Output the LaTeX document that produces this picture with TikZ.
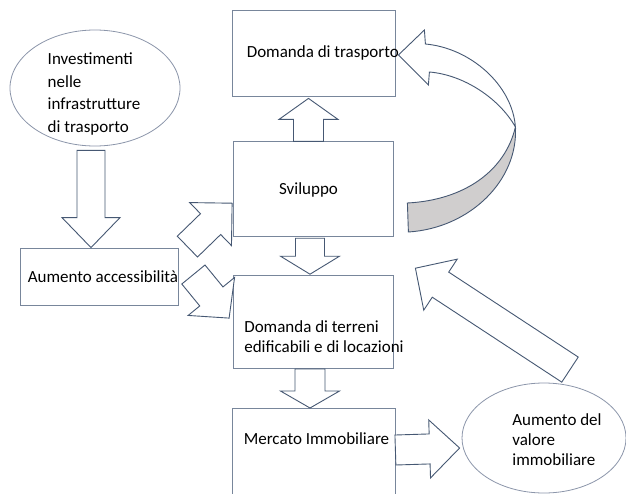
\documentclass[tikz,border=0pt]{standalone}
\usepackage{fontspec}
\setmainfont{Carlito}
\usetikzlibrary{calc,positioning,shapes.geometric}
\definecolor{schLine}{RGB}{70,88,115}
\definecolor{schBox}{RGB}{120,134,155}
\definecolor{schOval}{RGB}{140,150,170}
\definecolor{schShade}{RGB}{208,206,206}
\tikzset{
  schbox/.style={
    draw=schBox,
    line width=0.8pt,
    minimum width=160pt,
    inner sep=0pt
  },
  schoval/.style={
    draw=schOval,
    line width=0.8pt,
    ellipse,
    inner sep=0pt
  },
  schtext/.style={
    font=\fontsize{17}{20}\selectfont,
    align=left,
    inner sep=0pt
  },
  schblock/.style={
    draw=schLine,
    line width=0.9pt,
    fill=white,
    line join=miter
  }
}
% block arrow: from, to, shaft half width, head half width, head length
\newcommand\schblockarrow[5]{%
  \coordinate (bh) at ($(#2)!#5!(#1)$);
  \filldraw[schblock] ($(#1)!#3!90:(#2)$) -- ($(bh)!#3!90:(#2)$) -- ($(bh)!#4!90:(#2)$)
    -- (#2) -- ($(bh)!#4!-90:(#2)$) -- ($(bh)!#3!-90:(#2)$) -- ($(#1)!#3!-90:(#2)$) -- cycle;
}

\begin{document}
\begin{tikzpicture}[x=1pt,y=-1pt]
  \clip (0,0) rectangle (626,493);
  \fill[white] (0,0) rectangle (626,493);

  % boxes in the middle column
  \node[schbox, minimum width=163pt, minimum height=86pt] (trasporto) at (313.5,53) {};
  \node[schbox, minimum height=95pt, below=45pt of trasporto] (sviluppo) {};
  \node[schbox, minimum height=93pt, below=38pt of sviluppo] (terreni) {};
  \node[schbox, minimum width=163pt, minimum height=100pt, below=39pt of terreni] (mercato) {};
  \node[schbox, minimum width=158pt, minimum height=57pt] (accesso) at (99,276.5) {};
  \node[schoval, minimum width=170pt, minimum height=116pt] (inv) at (95,88) {};
  \node[schoval, minimum width=164pt, minimum height=110pt] (valore) at (544,438) {};

  % texts
  \node[schtext, anchor=west] (trasporto-t) at ($(trasporto.west)+(15,0)$) {Domanda di trasporto};
  \node[schtext] (sviluppo-t) at ($(sviluppo.center)+(-5,1)$) {Sviluppo};
  \node[schtext, anchor=west] (terreni-t) at ($(terreni.west)+(11,15)$)
    {Domanda di terreni\\edificabili e di locazioni};
  \node[schtext, anchor=west] (mercato-t) at ($(mercato.north west)+(12,31)$) {Mercato Immobiliare};
  \node[schtext, anchor=west] (accesso-t) at ($(accesso.west)+(8,0)$) {Aumento accessibilità};
  \node[schtext, font=\fontsize{17}{22.5}\selectfont] (inv-t) at ($(inv.center)+(-1,6)$)
    {Investimenti\\nelle\\infrastrutture\\di trasporto};
  \node[schtext] (valore-t) at ($(valore.center)+(13,2)$)
    {Aumento del\\valore\\immobiliare};

  % ends of the block arrows
  \coordinate (a1s) at ($(inv.south)+(-4,4)$);
  \coordinate (a1e) at ($(accesso.north)+(-8,0)$);
  \coordinate (a2s) at ($(sviluppo.north)+(-5,0)$);
  \coordinate (a2e) at ($(trasporto.south)+(-5,2)$);
  \coordinate (a3s) at ($(sviluppo.south)+(-3.5,1)$);
  \coordinate (a3e) at ($(terreni.north)+(-3.5,-1)$);
  \coordinate (a4s) at ($(terreni.south)+(-3.5,0)$);
  \coordinate (a4e) at ($(mercato.north)+(-3.5,0)$);
  \coordinate (a5s) at ($(mercato.north east)+(0,42)$);
  \coordinate (a5e) at ($(valore.west)+(-2,10)$);
  \coordinate (a6s) at ($(accesso.north east)+(9,-1)$);
  \coordinate (a6e) at ($(sviluppo.south west)+(-1,-34)$);
  \coordinate (a7s) at ($(accesso.east)+(15,-2)$);
  \coordinate (a7e) at ($(terreni.west)+(-4,-4)$);
  \coordinate (a8s) at ($(valore.north)+(26,-13)$);
  \coordinate (a8e) at ($(terreni.north east)+(21.5,-7)$);
  \coordinate (cv-tip) at ($(trasporto.east)+(3,2)$);

  \schblockarrow{a1s}{a1e}{14pt}{29pt}{30pt}
  \schblockarrow{a2s}{a2e}{15pt}{29.5pt}{21pt}
  \schblockarrow{a3s}{a3e}{14.5pt}{29.5pt}{18pt}
  \schblockarrow{a4s}{a4e}{15pt}{29.5pt}{17pt}
  \schblockarrow{a5s}{a5e}{15pt}{29pt}{30pt}
  \schblockarrow{a6s}{a6e}{14.5pt}{30pt}{30pt}
  \schblockarrow{a7s}{a7e}{15pt}{30pt}{28pt}
  \schblockarrow{a8s}{a8e}{15pt}{30.5pt}{30pt}

  % curved arrow from Sviluppo back to Domanda di trasporto
  \begin{scope}[shift={(cv-tip)}]
    \filldraw[schblock, fill=schShade] (117,72) .. controls (120,125) and (72,173) .. (10,177)
      -- (9,148) .. controls (67,145) and (107,115) .. (117,72);
    \filldraw[schblock] (0,0) -- (26,-25) -- (27,-11) .. controls (72,-7) and (114,30) .. (117,72)
      .. controls (102,45) and (67,20) .. (31,17) -- (30,30) -- cycle;
  \end{scope}
\end{tikzpicture}
\end{document}
